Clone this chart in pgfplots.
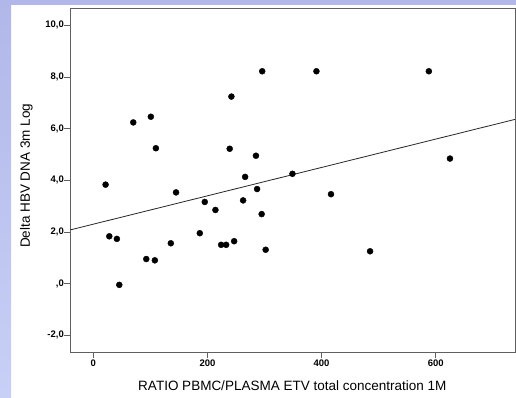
\documentclass[border=0pt]{standalone}
\usepackage{pgfplots}
\pgfplotsset{compat=1.18}
\usepackage{fontspec}
\setmainfont{Liberation Sans}
\definecolor{bandtop}{HTML}{B1B7E8}
\definecolor{bandbot}{HTML}{C8D0F6}
\definecolor{framec}{HTML}{606060}
\begin{document}
\begin{tikzpicture}
\fill[white] (0pt,0pt) rectangle (516pt,397pt);
\shade[top color=bandtop, bottom color=bandbot] (0pt,0pt) rectangle (11pt,397pt);
\fill[bandtop] (0pt,392pt) rectangle (516pt,397pt);
\begin{axis}[
  at={(70.5pt,45pt)}, anchor=south west,
  width=444.5pt, height=344pt, scale only axis,
  xmin=-40, xmax=739, ymin=-2.65, ymax=10.67,
  axis line style={framec, line width=0.8pt},
  xtick={0,200,400,600}, xticklabels={0,200,400,600},
  ytick={-2,0,2,4,6,8,10},
  yticklabels={{-2,0},{,0},{2,0},{4,0},{6,0},{8,0},{10,0}},
  tick align=outside, major tick length=6pt,
  xtick pos=bottom, ytick pos=left,
  tick style={framec, line width=0.8pt},
  tick label style={font=\fontsize{9.5}{10}\selectfont\bfseries},
  yticklabel style={inner xsep=0.5pt},
  xticklabel style={inner ysep=2pt},
  xlabel={RATIO PBMC/PLASMA ETV total concentration 1M},
  ylabel={Delta HBV DNA 3m Log},
  label style={font=\fontsize{13.5}{15}\selectfont},
  xlabel style={at={(axis description cs:0.499,-0.099)}, anchor=center},
  ylabel style={at={(axis description cs:-0.099,0.512)}, anchor=center},
  clip=true,
]
\addplot[black!85, line width=0.8pt] coordinates {(-40,2.08) (739,6.357)};
\addplot[only marks, mark=*, mark size=3pt, black] coordinates {
(21.5,3.83) (28,1.83) (41.3,1.73) (45.5,-0.05) (70,6.24) (92.8,0.95)
(100.8,6.46) (107.8,0.90) (109.6,5.24) (135.8,1.56) (145,3.53) (186.6,1.95)
(195.3,3.16) (214,2.85) (224,1.50) (232.8,1.50) (239,5.22) (242,7.24)
(246.8,1.64) (262.5,3.22) (266,4.13) (285,4.95) (287,3.66) (295,2.69)
(296,8.22) (302,1.31) (349,4.25) (391,8.22) (416.5,3.46) (485,1.25)
(588,8.22) (625,4.84)
};
\end{axis}
\useasboundingbox (0pt,0pt) rectangle (516pt,397pt);
\end{tikzpicture}
\end{document}
